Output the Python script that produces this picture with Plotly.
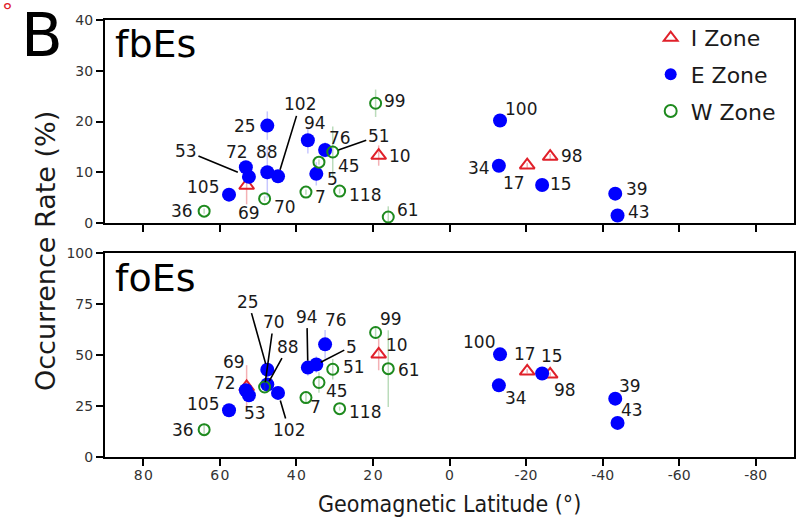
import plotly.graph_objects as go

# ---------------- data ----------------
i_ids = [69, 10, 17, 98]
i_lat = [53.0, 18.5, -20.3, -26.3]
i_fb = [7.4, 13.3, 11.4, 13.1]
i_fb_err = [3.7, 2.0, 0.5, 0.5]
i_fo = [34.3, 50.3, 42.0, 40.5]
i_fo_err = [10.7, 7.8, 1.0, 1.0]

e_ids = [25, 72, 53, 105, 88, 102, 94, 76, 5, 100, 34, 15, 39, 43]
e_lat = [47.6, 53.2, 52.4, 57.6, 47.6, 44.8, 37.0, 32.5, 34.8, -13.2, -12.9, -24.2, -43.3, -43.9]
e_fb = [19.2, 11.0, 9.1, 5.6, 10.0, 9.2, 16.3, 14.4, 9.7, 20.2, 11.3, 7.5, 5.8, 1.5]
e_fb_err = [2.8, 0.8, 0.8, 0.5, 5.0, 0.5, 2.6, 1.5, 2.3, 1.0, 0.5, 0.5, 0.5, 0.5]
e_fo = [42.8, 32.7, 30.2, 22.9, 35.5, 31.4, 43.8, 55.2, 45.3, 50.3, 35.1, 40.9, 28.6, 16.7]
e_fo_err = [2.0, 2.0, 2.0, 1.5, 2.0, 1.5, 4.0, 7.0, 4.0, 1.5, 1.0, 1.0, 1.0, 1.0]

w_ids = [36, 70, 7, 45, 51, 118, 99, 61]
w_lat = [64.1, 48.3, 37.5, 34.1, 30.5, 28.7, 19.3, 16.0]
w_fb = [2.35, 4.8, 6.1, 12.0, 14.0, 6.3, 23.6, 1.2]
w_fb_err = [0.5, 0.5, 0.5, 0.5, 5.0, 0.5, 2.7, 2.1]
w_fo = [13.4, 34.3, 29.1, 36.5, 43.0, 23.7, 61.0, 43.3]
w_fo_err = [3.0, 2.0, 3.0, 5.0, 5.0, 1.0, 3.0, 18.8]

x_ticks = [80, 60, 40, 20, 0, -20, -40, -60, -80]
x_tick_text = ["8\u200a0", "6\u200a0", "4\u200a0", "2\u200a0", "0", "-20", "-40", "-60", "-80"]

# ---------------- styles ----------------
RED = "#e0202a"
BLUE = "#0000ff"
GREEN = "#1e8a1e"
FONT = "DejaVu Sans"

zones = [
    dict(name="I Zone", ids=i_ids, lat=i_lat, fb=i_fb, fbe=i_fb_err, fo=i_fo, foe=i_fo_err,
         marker=dict(symbol="triangle-up-open", color=RED, size=13, line=dict(width=2, color=RED)),
         ecol="rgba(224,32,42,0.35)"),
    dict(name="E Zone", ids=e_ids, lat=e_lat, fb=e_fb, fbe=e_fb_err, fo=e_fo, foe=e_fo_err,
         marker=dict(symbol="circle", color=BLUE, size=14),
         ecol="rgba(0,0,255,0.22)"),
    dict(name="W Zone", ids=w_ids, lat=w_lat, fb=w_fb, fbe=w_fb_err, fo=w_fo, foe=w_fo_err,
         marker=dict(symbol="circle-open", color=GREEN, size=11, line=dict(width=2, color=GREEN)),
         ecol="rgba(30,138,30,0.3)"),
]

fig = go.Figure()
for z in zones:
    fig.add_trace(go.Scatter(x=z["lat"], y=z["fb"], mode="markers", name=z["name"],
                             legendgroup=z["name"], marker=z["marker"],
                             error_y=dict(type="data", array=z["fbe"], color=z["ecol"], thickness=1.5, width=0),
                             xaxis="x", yaxis="y"))
for z in zones:
    fig.add_trace(go.Scatter(x=z["lat"], y=z["fo"], mode="markers", name=z["name"],
                             legendgroup=z["name"], showlegend=False, marker=z["marker"],
                             error_y=dict(type="data", array=z["foe"], color=z["ecol"], thickness=1.5, width=0),
                             xaxis="x2", yaxis="y2"))

# lookup of station positions
pos_fb, pos_fo = {}, {}
for z in zones:
    for sid, la, fb, fo in zip(z["ids"], z["lat"], z["fb"], z["fo"]):
        pos_fb[sid] = (la, fb)
        pos_fo[sid] = (la, fo)

# label placement (pixel offsets)
fb_plain = {25: ("right", -9, 0), 72: ("center", -9, 15), 69: ("center", 2, -27), 105: ("right", -8, 8),
            36: ("right", -9, 0), 88: ("center", 0, 20), 70: ("left", 7, -8), 94: ("center", 7, 17),
            76: ("center", 15, 12), 45: ("left", 17, -4), 5: ("left", 9, -5), 7: ("left", 7, -5),
            118: ("left", 7, -4), 99: ("left", 6, 2), 10: ("left", 8, 0), 61: ("left", 7, 7),
            100: ("left", 3, 12), 34: ("right", -7, -2), 17: ("center", -13, -18), 98: ("left", 9, 1),
            15: ("left", 6, 1), 39: ("left", 9, 5), 43: ("left", 8, 3)}
fb_arrow = {53: (-63, -26, 12), 102: (22, -72, 7), 51: (46, -16, 6)}

fo_plain = {36: ("right", -8, 0), 105: ("right", -8, 6), 72: ("right", -8, 7), 69: ("center", -13, 25),
            53: ("center", 6, -18), 76: ("center", 11, 24), 51: ("left", 8, 2), 45: ("left", 5, -8),
            7: ("center", 10, -9), 118: ("left", 7, -3), 99: ("center", 15, 14), 10: ("left", 5, 9),
            61: ("left", 8, -1), 100: ("right", -3, 12), 17: ("center", -2, 17), 15: ("center", 10, 18),
            98: ("center", 15, -16), 34: ("center", 17, -13), 39: ("center", 15, 13), 43: ("center", 14, 13)}
fo_arrow = {25: (-19, -68, 6), 70: (9, -65, 5), 88: (21, -38, 4), 102: (11, 37, 8), 94: (-1, -51, 7),
            5: (35, -18, 5)}

lab_font = dict(family=FONT, size=17, color="#1a1a1a")
ann = []
for pos, plain, arrow, xr, yr in [(pos_fb, fb_plain, fb_arrow, "x", "y"), (pos_fo, fo_plain, fo_arrow, "x2", "y2")]:
    for sid, (xa, dx, dy) in plain.items():
        x, y = pos[sid]
        ann.append(dict(x=x, y=y, xref=xr, yref=yr, text=str(sid), showarrow=False, xanchor=xa,
                        yanchor="middle", xshift=dx, yshift=dy, font=lab_font))
    for sid, (ax, ay, so) in arrow.items():
        x, y = pos[sid]
        ann.append(dict(x=x, y=y, xref=xr, yref=yr, text=str(sid), showarrow=True, ax=ax, ay=ay,
                        arrowhead=0, arrowwidth=1.6, arrowcolor="black", standoff=so, font=lab_font))

# panel labels and titles
ann.append(dict(x=0.012, y=1.0, xref="paper", yref="paper", text="fbEs", showarrow=False,
                xanchor="left", yanchor="top", font=dict(family=FONT, size=38, color="black")))
ann.append(dict(x=0.012, y=0.465, xref="paper", yref="paper", text="foEs", showarrow=False,
                xanchor="left", yanchor="top", font=dict(family=FONT, size=38, color="black")))
ann.append(dict(x=-0.125, y=1.052, xref="paper", yref="paper", text="B", showarrow=False,
                xanchor="left", yanchor="top", font=dict(family=FONT, size=61, color="black")))
ann.append(dict(x=-0.1522, y=1.02, xref="paper", yref="paper", text="°", showarrow=False,
                xanchor="left", yanchor="middle", font=dict(family=FONT, size=22, color=RED)))
ann.append(dict(x=-0.111, y=0.4715, xref="paper", yref="paper", text="Occurrence Rate (%)", showarrow=False,
                textangle=-90, font=dict(family=FONT, size=27, color="#1a1a1a")))
ann.append(dict(x=0.5, y=-0.108, xref="paper", yref="paper", text="Geomagnetic Latitude (°)", showarrow=False,
                yanchor="middle", font=dict(family="DejaVu Sans Condensed, DejaVu Sans", size=23, color="#1a1a1a")))

tick_font = dict(family=FONT, size=14, color="#333333")
common_x = dict(range=[90, -90], tickvals=x_ticks, ticktext=x_tick_text, ticks="outside", ticklen=7,
                tickwidth=1.5, tickcolor="black", showline=True, linecolor="black", linewidth=2, mirror=True,
                showgrid=False, zeroline=False, tickfont=tick_font)
common_y = dict(ticks="outside", ticklen=7, tickwidth=1.5, tickcolor="black", showline=True,
                linecolor="black", linewidth=2, mirror=True, showgrid=False, zeroline=False,
                tickfont=tick_font)

fig.update_layout(
    width=808, height=521,
    margin=dict(l=105, r=13, t=18, b=64),
    plot_bgcolor="white", paper_bgcolor="white",
    xaxis=dict(domain=[0, 1], anchor="y", showticklabels=False, **common_x),
    yaxis=dict(domain=[0.5353, 1], anchor="x", range=[0, 40], tickvals=[0, 10, 20, 30, 40], **common_y),
    xaxis2=dict(domain=[0, 1], anchor="y2", ticklabelstandoff=-3, **common_x),
    yaxis2=dict(domain=[0, 0.467], anchor="x2", range=[0, 100], tickvals=[0, 25, 50, 75, 100], **common_y),
    legend=dict(x=0.792, y=1.007, xanchor="left", yanchor="top", bgcolor="rgba(0,0,0,0)",
                font=dict(family=FONT, size=22, color="#1a1a1a"), tracegroupgap=5,
                traceorder="grouped", itemsizing="constant"),
    annotations=ann,
    showlegend=True,
)

fig.write_html("out.html")
